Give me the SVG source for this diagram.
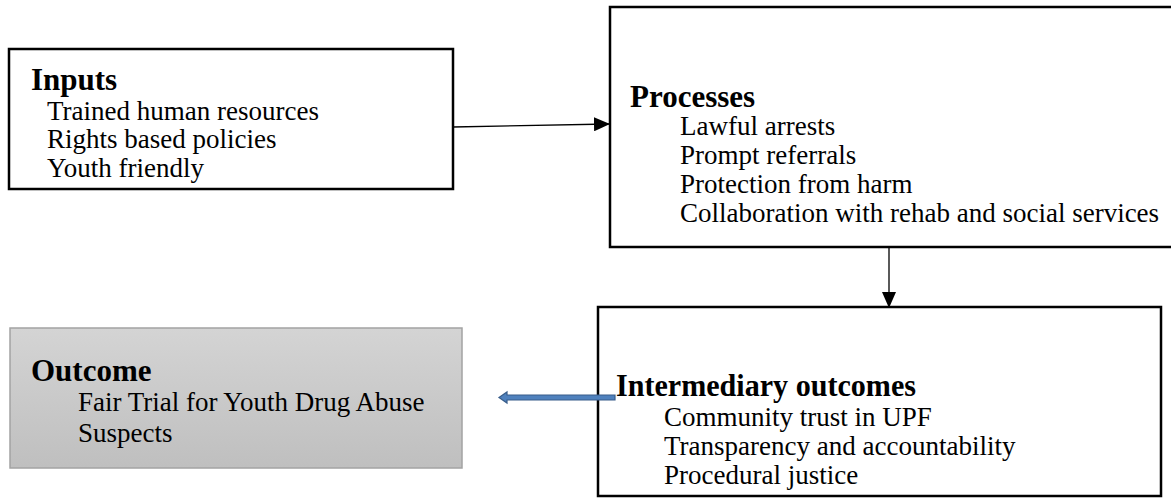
<svg xmlns="http://www.w3.org/2000/svg" width="1171" height="498" viewBox="0 0 1171 498">
<style>
.box{fill:#fff;stroke:#000;stroke-width:2.5}
.t{font-family:"Liberation Serif","Times New Roman",serif;font-weight:bold;font-size:31px;fill:#000}
.i{font-family:"Liberation Serif","Times New Roman",serif;font-size:27px;fill:#000}
.ln{stroke:#000;stroke-width:1.3;fill:none}
</style>
<defs>
<linearGradient id="gray" x1="0" y1="0" x2="0" y2="1">
<stop offset="0" stop-color="#d4d4d4"/>
<stop offset="1" stop-color="#bfbfbf"/>
</linearGradient>
<marker id="ah" markerWidth="16" markerHeight="14" refX="15" refY="7" orient="auto" markerUnits="userSpaceOnUse">
<path d="M0,0 L16,7 L0,14 Z" fill="#000"/>
</marker>
</defs>
<g id="inputs">
<rect class="box" x="9" y="49" width="444" height="140"/>
<text class="t" x="31" y="90">Inputs</text>
<text class="i" x="47" y="120">Trained human resources</text>
<text class="i" x="47" y="148">Rights based policies</text>
<text class="i" x="47" y="177">Youth friendly</text>
</g>
<g id="processes">
<rect class="box" x="610" y="7" width="580" height="240"/>
<text class="t" x="630" y="107">Processes</text>
<text class="i" x="680" y="135">Lawful arrests</text>
<text class="i" x="680" y="164">Prompt referrals</text>
<text class="i" x="680" y="193">Protection from harm</text>
<text class="i" x="680" y="222">Collaboration with rehab and social services</text>
</g>
<g id="intermediary">
<rect class="box" x="598" y="307" width="563" height="189"/>
<text class="t" x="616" y="396" textLength="300" lengthAdjust="spacingAndGlyphs">Intermediary outcomes</text>
<text class="i" x="664" y="426">Community trust in UPF</text>
<text class="i" x="664" y="455">Transparency and accountability</text>
<text class="i" x="664" y="484">Procedural justice</text>
</g>
<g id="outcome">
<rect x="10" y="328" width="452" height="140" fill="url(#gray)" stroke="#a3a3a3" stroke-width="1.5"/>
<text class="t" x="31" y="381">Outcome</text>
<text class="i" x="78" y="411">Fair Trial for Youth Drug Abuse</text>
<text class="i" x="78" y="442">Suspects</text>
</g>
<g id="connectors">
<line class="ln" x1="453" y1="127" x2="609" y2="124" marker-end="url(#ah)"/>
<line class="ln" x1="889" y1="247" x2="889" y2="307" marker-end="url(#ah)"/>
<path d="M615,395 L507,395 L507,392 L499,397.5 L507,403 L507,400 L615,400 Z" fill="#4f81bd" stroke="#385d8a" stroke-width="1.2"/>
</g>
</svg>
